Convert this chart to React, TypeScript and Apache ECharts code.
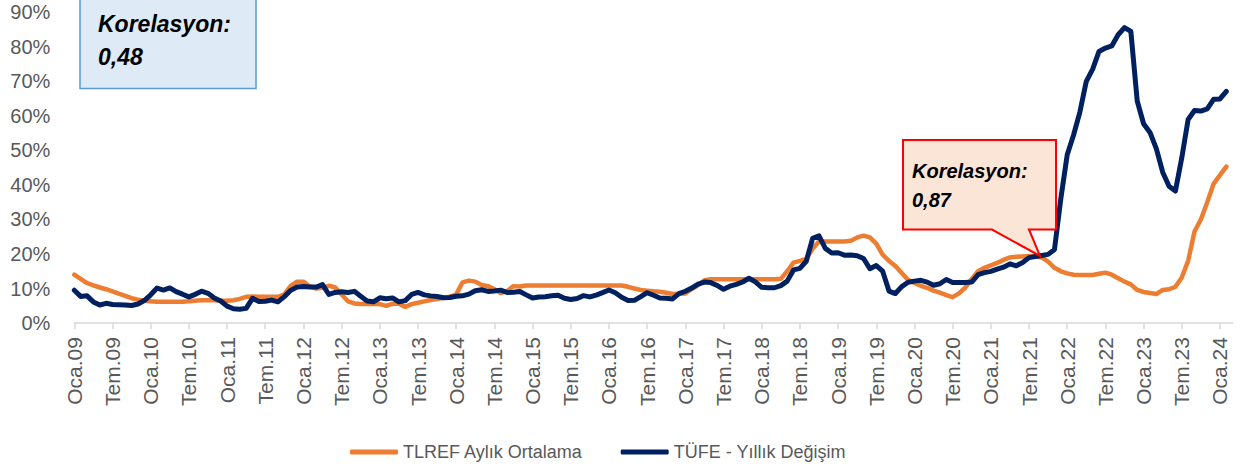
import React, { useEffect, useRef } from "react";
import * as echarts from "echarts";

const MONTH_NAMES = ["Oca", "Şub", "Mar", "Nis", "May", "Haz", "Tem", "Ağu", "Eyl", "Eki", "Kas", "Ara"];
const YEAR_LABELS = ["09", "10", "11", "12", "13", "14", "15", "16", "17", "18", "19", "20", "21", "22", "23", "24"];
const CATEGORY_COUNT = 183; // Oca.09 .. Mar.24

// TLREF Aylık Ortalama (%)
const TLREF_2009 = [14.0, 12.8, 11.6, 10.9, 10.3, 9.8, 9.2, 8.5, 7.9, 7.2, 6.8, 6.5];
const TLREF_2010 = [6.3, 6.2, 6.2, 6.2, 6.2, 6.2, 6.3, 6.5, 6.6, 6.6, 6.6, 6.5];
const TLREF_2011 = [6.5, 6.6, 7.0, 7.6, 7.7, 7.6, 7.6, 7.6, 7.6, 8.3, 10.8, 12.0];
const TLREF_2012 = [12.0, 10.6, 10.0, 10.2, 10.8, 10.3, 8.3, 6.3, 5.7, 5.5, 5.5, 5.5];
const TLREF_2013 = [5.5, 5.0, 5.6, 5.6, 4.7, 5.5, 5.9, 6.3, 6.7, 7.0, 7.3, 7.6];
const TLREF_2014 = [8.3, 11.8, 12.3, 12.0, 11.0, 10.7, 9.8, 8.7, 9.3, 10.7, 10.6, 10.9];
const TLREF_2015 = [10.9, 10.9, 10.9, 10.9, 10.9, 10.9, 10.9, 10.9, 10.9, 10.9, 10.9, 10.9];
const TLREF_2016 = [10.9, 10.9, 10.9, 10.5, 10.0, 9.6, 9.4, 9.2, 9.1, 8.8, 8.4, 8.5];
const TLREF_2017 = [8.6, 9.8, 11.0, 12.4, 12.7, 12.7, 12.7, 12.7, 12.7, 12.7, 12.7, 12.7];
const TLREF_2018 = [12.7, 12.7, 12.7, 12.8, 15.0, 17.5, 18.0, 18.6, 21.5, 23.6, 23.6, 23.6];
const TLREF_2019 = [23.6, 23.6, 23.8, 24.8, 25.3, 24.8, 23.0, 19.8, 18.0, 16.5, 14.5, 12.5];
const TLREF_2020 = [11.6, 10.8, 10.2, 9.4, 8.8, 8.1, 7.5, 8.6, 10.3, 12.8, 15.0, 16.0];
const TLREF_2021 = [16.7, 17.4, 18.3, 19.0, 19.2, 19.3, 19.4, 19.3, 19.0, 17.8, 16.0, 15.0];
const TLREF_2022 = [14.4, 14.0, 13.9, 13.9, 13.9, 14.3, 14.6, 14.0, 13.0, 12.0, 11.2, 9.6];
const TLREF_2023 = [9.0, 8.7, 8.4, 9.6, 9.8, 10.5, 13.2, 18.0, 26.5, 30.0, 35.0, 40.3];
const TLREF_2024 = [42.8, 45.3];

// TÜFE - Yıllık Değişim (%)
const TUFE_2009 = [9.5, 7.73, 7.89, 6.13, 5.24, 5.73, 5.39, 5.33, 5.27, 5.1, 5.53, 6.53];
const TUFE_2010 = [8.19, 10.13, 9.56, 10.19, 9.1, 8.37, 7.58, 8.33, 9.24, 8.62, 7.29, 6.4];
const TUFE_2011 = [4.9, 4.16, 3.99, 4.26, 7.17, 6.24, 6.31, 6.65, 6.15, 7.66, 9.48, 10.45];
const TUFE_2012 = [10.61, 10.43, 10.43, 11.14, 8.28, 8.87, 9.07, 8.88, 9.19, 7.8, 6.37, 6.16];
const TUFE_2013 = [7.31, 7.03, 7.29, 6.13, 6.51, 8.3, 8.88, 8.17, 7.88, 7.71, 7.32, 7.4];
const TUFE_2014 = [7.75, 7.89, 8.39, 9.38, 9.66, 9.16, 9.32, 9.54, 8.86, 8.96, 9.15, 8.17];
const TUFE_2015 = [7.24, 7.55, 7.61, 7.91, 8.09, 7.2, 6.81, 7.14, 7.95, 7.58, 8.1, 8.81];
const TUFE_2016 = [9.58, 8.78, 7.46, 6.57, 6.58, 7.64, 8.79, 8.05, 7.28, 7.16, 7.0, 8.53];
const TUFE_2017 = [9.22, 10.13, 11.29, 11.87, 11.72, 10.9, 9.79, 10.68, 11.2, 11.9, 12.98, 11.92];
const TUFE_2018 = [10.35, 10.26, 10.23, 10.85, 12.15, 15.39, 15.85, 17.9, 24.52, 25.24, 21.62, 20.3];
const TUFE_2019 = [20.35, 19.67, 19.71, 19.5, 18.71, 15.72, 16.65, 15.01, 9.26, 8.55, 10.56, 11.84];
const TUFE_2020 = [12.15, 12.37, 11.86, 10.94, 11.39, 12.62, 11.76, 11.77, 11.75, 11.89, 14.03, 14.6];
const TUFE_2021 = [14.97, 15.61, 16.19, 17.14, 16.59, 17.53, 18.95, 19.25, 19.58, 19.89, 21.31, 36.08];
const TUFE_2022 = [48.69, 54.44, 61.14, 69.97, 73.5, 78.62, 79.6, 80.21, 83.45, 85.51, 84.39, 64.27];
const TUFE_2023 = [57.68, 55.18, 50.51, 43.68, 39.59, 38.21, 47.83, 58.94, 61.53, 61.36, 61.98, 64.77];
const TUFE_2024 = [64.86, 67.07];

const Y_MIN = 0;
const Y_MAX = 90;
const Y_STEP = 10;

const SERIES_NAMES = ["TLREF Aylık Ortalama", "TÜFE - Yıllık Değişim"];
const CORR_LEFT = ["Korelasyon:", "0,48"];
const CORR_RIGHT = ["Korelasyon:", "0,87"];

const FONT = '"Liberation Sans", Arial, sans-serif';

function buildCategories(): string[] {
  const out: string[] = [];
  for (const y of YEAR_LABELS) {
    for (const m of MONTH_NAMES) {
      out.push(`${m}.${y}`);
    }
  }
  return out.slice(0, CATEGORY_COUNT);
}

function pad(arr: number[]): (number | null)[] {
  const out: (number | null)[] = arr.slice();
  while (out.length < CATEGORY_COUNT) out.push(null);
  return out;
}

const TLREF = pad([
  ...TLREF_2009, ...TLREF_2010, ...TLREF_2011, ...TLREF_2012, ...TLREF_2013, ...TLREF_2014,
  ...TLREF_2015, ...TLREF_2016, ...TLREF_2017, ...TLREF_2018, ...TLREF_2019, ...TLREF_2020,
  ...TLREF_2021, ...TLREF_2022, ...TLREF_2023, ...TLREF_2024,
]);
const TUFE = pad([
  ...TUFE_2009, ...TUFE_2010, ...TUFE_2011, ...TUFE_2012, ...TUFE_2013, ...TUFE_2014,
  ...TUFE_2015, ...TUFE_2016, ...TUFE_2017, ...TUFE_2018, ...TUFE_2019, ...TUFE_2020,
  ...TUFE_2021, ...TUFE_2022, ...TUFE_2023, ...TUFE_2024,
]);

export default function App() {
  const ref = useRef<HTMLDivElement | null>(null);

  useEffect(() => {
    if (!ref.current) return;
    const chart = echarts.init(ref.current, undefined, { renderer: "svg" });
    const categories = buildCategories();

    const textStyle = (text: string, x: number, y: number, size: number) => ({
      type: "text",
      z: 100,
      style: {
        text,
        x,
        y,
        fontSize: size,
        fontWeight: "bold",
        fontStyle: "italic",
        fontFamily: FONT,
        fill: "#000000",
        align: "left",
        verticalAlign: "middle",
        textAlign: "left",
        textVerticalAlign: "middle",
      },
    });

    chart.setOption({
      animation: false,
      backgroundColor: "#ffffff",
      grid: { left: 74.3, right: 12.3, top: 12.1, bottom: 146.9, containLabel: false },
      legend: {
        show: true,
        left: 350,
        top: 443,
        icon: "roundRect",
        itemWidth: 48,
        itemHeight: 5,
        itemGap: 38,
        padding: 0,
        textStyle: { fontSize: 18, color: "#595959", fontFamily: FONT },
        data: SERIES_NAMES,
      },
      xAxis: {
        type: "category",
        data: categories,
        boundaryGap: false,
        axisLine: { show: true, lineStyle: { color: "#D9D9D9", width: 1.5 } },
        axisTick: { show: true, interval: 5, length: 6, lineStyle: { color: "#D9D9D9", width: 1.5 } },
        axisLabel: {
          interval: 5,
          rotate: 90,
          margin: 14,
          fontSize: 21,
          color: "#595959",
          fontFamily: FONT,
        },
        splitLine: { show: false },
      },
      yAxis: {
        type: "value",
        min: Y_MIN,
        max: Y_MAX,
        interval: Y_STEP,
        axisLine: { show: false },
        axisTick: { show: false },
        splitLine: { show: false },
        axisLabel: {
          formatter: "{value}%",
          fontSize: 20,
          color: "#595959",
          fontFamily: FONT,
          margin: 24,
        },
      },
      series: [
        {
          name: SERIES_NAMES[0],
          type: "line",
          data: TLREF,
          showSymbol: false,
          symbol: "none",
          color: "#ED7D31",
          lineStyle: { color: "#ED7D31", width: 4.5, cap: "round", join: "round" },
          itemStyle: { color: "#ED7D31" },
          z: 2,
        },
        {
          name: SERIES_NAMES[1],
          type: "line",
          data: TUFE,
          showSymbol: false,
          symbol: "none",
          color: "#002060",
          lineStyle: { color: "#002060", width: 5, cap: "round", join: "round" },
          itemStyle: { color: "#002060" },
          z: 3,
        },
      ],
      graphic: [
        {
          type: "rect",
          z: 90,
          shape: { x: 80, y: -2, width: 176, height: 90.5 },
          style: { fill: "#DEEBF7", stroke: "#5B9BD5", lineWidth: 1.5 },
        },
        textStyle(CORR_LEFT[0], 98, 24, 23),
        textStyle(CORR_LEFT[1], 98, 57, 23),
        {
          type: "polygon",
          z: 90,
          shape: {
            points: [
              [903, 140],
              [1056, 140],
              [1056, 229.5],
              [1029, 229.5],
              [1040, 256],
              [992, 229.5],
              [903, 229.5],
            ],
          },
          style: { fill: "#FBE5D6", stroke: "#FF0000", lineWidth: 2 },
        },
        textStyle(CORR_RIGHT[0], 912, 171, 20),
        textStyle(CORR_RIGHT[1], 912, 200, 20),
      ],
    });

    return () => {
      chart.dispose();
    };
  }, []);

  return (
    <div
      ref={ref}
      style={{ position: "fixed", left: 0, top: 0, width: 1245, height: 470, background: "#fff" }}
    />
  );
}
